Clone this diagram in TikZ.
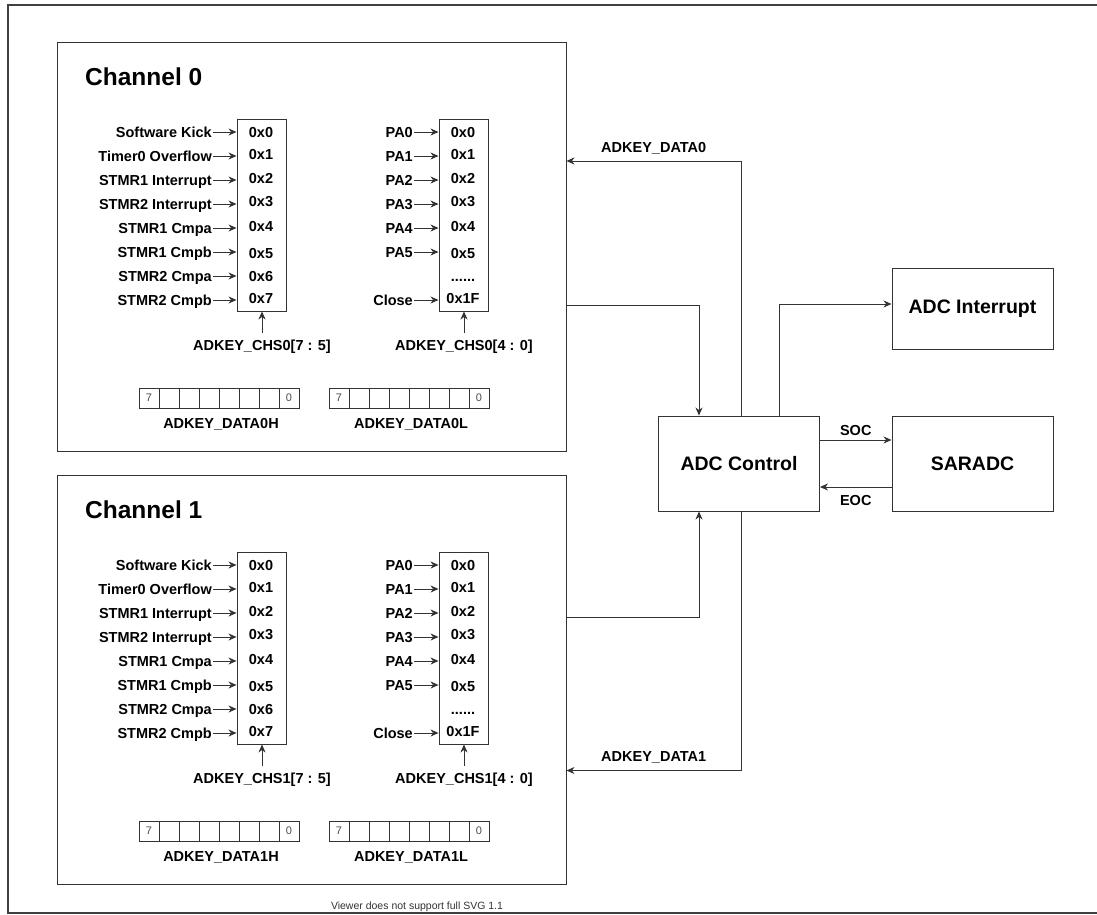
\documentclass[tikz,border=0pt]{standalone}
\usepackage{fontspec}
\setmainfont{Liberation Sans}
\usetikzlibrary{arrows.meta, positioning, calc}
\definecolor{linegray}{HTML}{333333}
\newcommand{\lblfont}{\fontsize{14.5}{17}\selectfont\bfseries}
\newcommand{\blkfont}{\fontsize{19.5}{23}\selectfont\bfseries}
\newcommand{\chanfont}{\fontsize{24.5}{29}\selectfont\bfseries}
\newcommand{\sixdots}{......}
\tikzset{
    chanbox/.style={rectangle, draw=linegray, line width=0.9pt, minimum width=509pt, minimum height=409pt, inner sep=0pt},
    muxbox/.style={rectangle, draw=linegray, line width=0.9pt, minimum width=49pt, minimum height=192pt, inner sep=0pt},
    block/.style={rectangle, draw=linegray, line width=0.9pt, minimum width=161pt, inner sep=0pt, font=\blkfont},
    lbl/.style={font=\lblfont, inner sep=1pt, text height=10.4pt, text depth=0pt},
    regcell/.style={draw=linegray, line width=0.8pt},
    bitlbl/.style={font=\fontsize{11}{13}\selectfont, text=black!70, inner sep=0pt},
    arrow/.style={-{Stealth[length=8pt, width=7pt, inset=2.5pt]}, line width=0.9pt, draw=linegray}
}

\begin{document}
\begin{tikzpicture}[x=1pt, y=-1pt]
    \useasboundingbox (0,0) rectangle (1097,915);
    \draw[black!75, line width=1.5pt] (1110,5) -- (8,5) -- (8,913) -- (1110,913);
    \foreach \ch/\dy in {0/0,1/433} {
        \node[chanbox] (ch\ch) at (311.5,246.5+\dy) {};
        \node[anchor=west, font=\chanfont, inner sep=0pt] (title\ch) at (85,77+\dy) {Channel \ch};
        \node[muxbox] (muxa\ch) at (261.5,215+\dy) {};
        \node[muxbox] (muxb\ch) at (463.5,215+\dy) {};
        \foreach \i/\txt in {0/Software Kick,1/Timer0 Overflow,2/STMR1 Interrupt,3/STMR2 Interrupt,4/STMR1 Cmpa,5/STMR1 Cmpb,6/STMR2 Cmpa,7/STMR2 Cmpb} {
            \node[lbl, anchor=east] (ina\ch-\i) at (213,132+24*\i+\dy) {\txt};
            \draw[arrow] (ina\ch-\i.east) -- (ina\ch-\i.east -| muxa\ch.west);
        }
        \foreach \i/\hy in {0/132,1/154,2/178,3/201,4/226,5/253,6/276,7/298}
            \node[lbl] (hexa\ch-\i) at (261,\hy+\dy) {0x\i};
        \foreach \i/\txt in {0/PA0,1/PA1,2/PA2,3/PA3,4/PA4,5/PA5,7/Close} {
            \node[lbl, anchor=east] (inb\ch-\i) at (414,132+24*\i+\dy) {\txt};
            \draw[arrow] (inb\ch-\i.east) -- (inb\ch-\i.east -| muxb\ch.west);
        }
        \foreach \i/\hy/\hx in {0/132/0x0,1/154/0x1,2/178/0x2,3/201/0x3,4/226/0x4,5/253/0x5,6/276/\sixdots,7/298/0x1F}
            \node[lbl] (hexb\ch-\i) at (463,\hy+\dy) {\hx};
        \node[lbl] (sela\ch) at (262,345+\dy) {ADKEY\_CHS\ch[7 : 5]};
        \node[lbl] (selb\ch) at (464,345+\dy) {ADKEY\_CHS\ch[4 : 0]};
        \draw[arrow] ([yshift=6pt]sela\ch.north) -- (sela\ch.north |- muxa\ch.south);
        \draw[arrow] ([yshift=6pt]selb\ch.north) -- (selb\ch.north |- muxb\ch.south);
        \foreach \rx/\rn in {139/H,329/L} {
            \foreach \k in {0,...,7}
                \draw[regcell] (\rx+20*\k,388+\dy) rectangle ++(20,20);
            \node[bitlbl] (bhi\ch\rn) at (\rx+10,398+\dy) {7};
            \node[bitlbl] (blo\ch\rn) at (\rx+150,398+\dy) {0};
            \node[lbl] (reg\ch\rn) at (\rx+82,423+\dy) {ADKEY\_DATA\ch\rn};
        }
    }
    \node[block, minimum height=95pt] (ctrl) at (739,463.5) {ADC Control};
    \node[block, minimum height=81pt] (intr) at (972.5,308.5) {ADC Interrupt};
    \node[block, minimum height=95pt] (sar) at (972.5,463.5) {SARADC};
    \draw[arrow] ([xshift=2pt]ctrl.north) |- ([yshift=85.5pt]ch0.east) node[pos=0.75, lbl, above=7.5pt] {ADKEY\_DATA0};
    \draw[arrow] ([yshift=-58.5pt]ch0.east) -| ([xshift=-40pt]ctrl.north);
    \draw[arrow] ([xshift=40pt]ctrl.north) |- ([yshift=4.5pt]intr.west);
    \draw[arrow] ([yshift=23.5pt]ctrl.east) -- ([yshift=23.5pt]sar.west) node[midway, lbl, above=3pt] {SOC};
    \draw[arrow] ([yshift=-23.5pt]sar.west) -- ([yshift=-23.5pt]ctrl.east) node[midway, lbl, below=7pt] {EOC};
    \draw[arrow] ([yshift=62pt]ch1.east) -| ([xshift=-40pt]ctrl.south);
    \draw[arrow] ([xshift=2pt]ctrl.south) |- ([yshift=-91pt]ch1.east) node[pos=0.75, lbl, above=7.5pt] {ADKEY\_DATA1};
    \node[font=\fontsize{10.5}{12}\selectfont, text=black!80] (note) at (417,907) {Viewer does not support full SVG 1.1};
\end{tikzpicture}
\end{document}
